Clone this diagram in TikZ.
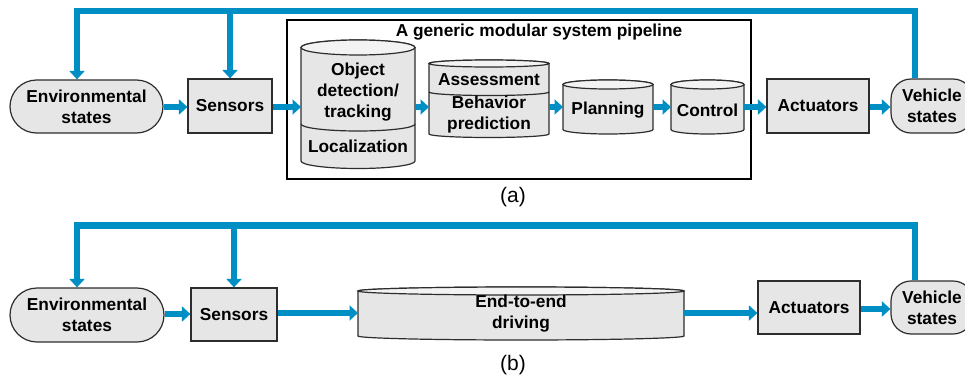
\documentclass[tikz,border=0pt]{standalone}
\usepackage{fontspec}
\setmainfont{Liberation Sans}
\usetikzlibrary{arrows.meta,calc}
\definecolor{flowblue}{RGB}{0,143,197}
\definecolor{boxgray}{RGB}{230,230,230}
\definecolor{topgray}{RGB}{243,243,243}
\definecolor{edgegray}{RGB}{45,45,45}
\newcommand\cylbody[2]{%
  \draw[cylline, fill=boxgray] let \p1=(#1.north west), \p2=(#1.south east), \n1={(\x2-\x1)/2} in
    (\p1) -- (\x1,\y2) arc[start angle=180, end angle=360, x radius=\n1, y radius=#2]
    -- (\x2,\y1) arc[start angle=0, end angle=180, x radius=\n1, y radius=#2] -- cycle;
  \draw[cylline, fill=topgray] let \p1=(#1.north west), \p2=(#1.south east), \n1={(\x2-\x1)/2} in
    ($(\p1)!0.5!(\x2,\y1)$) ellipse [x radius=\n1, y radius=#2];
}
\newcommand\cyldivider[3]{% node, y, ry
  \draw[cylline] let \p1=(#1.north west), \p2=(#1.south east), \n1={(\x2-\x1)/2} in
    (\x1,#2) arc[start angle=180, end angle=360, x radius=\n1, y radius=#3];
}
\begin{document}
\begin{tikzpicture}[x=1pt,y=1pt,
  lbl/.style={font=\bfseries\fontsize{17.3}{21}\selectfont, align=center, text=black},
  boxnode/.style={lbl, draw=edgegray, line width=1.2pt, fill=boxgray, inner sep=0pt},
  ghost/.style={inner sep=0pt, outer sep=0pt},
  cylline/.style={draw=edgegray, line width=1.2pt},
  flow/.style={draw=flowblue, line width=6.5pt, -{Triangle[length=8.5pt,width=15pt]}},
  flowplain/.style={draw=flowblue, line width=6.5pt, line join=miter},
  caption/.style={font=\fontsize{21}{25}\selectfont, text=black}
]
\useasboundingbox (0,0) rectangle (965,384);

% ---------------- (a) ----------------
\node[boxnode, rounded corners=26.5pt, minimum width=153pt, minimum height=53pt] (envA) at (86.5,277.5) {Environmental\\states};
\node[boxnode, minimum width=84pt, minimum height=54pt] (sensA) at (230,278) {Sensors};
\node[draw=black, line width=2.5pt, minimum width=464pt, minimum height=159pt, inner sep=0pt] (pipe) at (519,284.5) {};
\node[lbl] (pipet) at (539,352) {A generic modular system pipeline};

\node[ghost, minimum width=114pt, minimum height=113.5pt] (odet) at (358,279.75) {};
\cylbody{odet}{7.5pt}
\cyldivider{odet}{260}{7pt}
\node[lbl] (odett) at (358,292) {Object\\detection/\\tracking};
\node[lbl] (loct) at (358,238) {Localization};

\node[ghost, minimum width=120pt, minimum height=70.5pt] (beh) at (489,285.25) {};
\cylbody{beh}{3.5pt}
\cyldivider{beh}{292}{3.5pt}
\node[lbl] (asst) at (489,304) {Assessment};
\node[lbl] (beht) at (489,269) {Behavior\\prediction};

\node[ghost, minimum width=90pt, minimum height=45pt] (plan) at (608,277) {};
\cylbody{plan}{4.5pt}
\node[lbl] (plant) at (608,274) {Planning};

\node[ghost, minimum width=73pt, minimum height=45pt] (ctrl) at (707.5,277) {};
\cylbody{ctrl}{4.5pt}
\node[lbl] (ctrlt) at (707.5,274) {Control};

\node[boxnode, minimum width=102pt, minimum height=54pt] (actA) at (818,278) {Actuators};
\node[boxnode, rounded corners=20pt, minimum width=82pt, minimum height=54pt] (vehA) at (932,278) {Vehicle\\states};

\coordinate (taL) at (77,373);
\coordinate (taR) at (915,373);
\draw[flow] (envA.east |- 0,277) -- (sensA.west |- 0,277);
\draw[flow] (sensA.east |- 0,277) -- (odet.west |- 0,277);
\draw[flow] (odet.east |- 0,277) -- (beh.west |- 0,277);
\draw[flow] (beh.east |- 0,277) -- (plan.west |- 0,277);
\draw[flow] (plan.east |- 0,277) -- (ctrl.west |- 0,277);
\draw[flow] (ctrl.east |- 0,277) -- (actA.west |- 0,277);
\draw[flow] (actA.east |- 0,277) -- (vehA.west |- 0,277);
\draw[flowplain] (taR |- vehA.north) -- (taR) -- (taL) -- ([yshift=-4pt]taL);
\draw[flow] ([yshift=2pt]taL) -- (taL |- envA.north);
\draw[flow] (taL -| sensA.north) -- (sensA.north);
\node[caption] (capA) at (513,187) {(a)};

% ---------------- (b) ----------------
\node[boxnode, rounded corners=27pt, minimum width=154pt, minimum height=54pt] (envB) at (87,69) {Environmental\\states};
\node[boxnode, minimum width=86pt, minimum height=53pt] (sensB) at (234,69.5) {Sensors};
\node[ghost, minimum width=326pt, minimum height=45pt] (e2e) at (521,70.5) {};
\cylbody{e2e}{4pt}
\node[lbl] (e2et) at (521,70) {End-to-end\\driving};
\node[boxnode, minimum width=102pt, minimum height=53pt] (actB) at (809,76.5) {Actuators};
\node[boxnode, rounded corners=20pt, minimum width=82pt, minimum height=53pt] (vehB) at (932,76.5) {Vehicle\\states};

\coordinate (tbL) at (77,158.5);
\coordinate (tbR) at (915,158.5);
\draw[flow] (envB.east |- 0,70) -- (sensB.west |- 0,70);
\draw[flow] (sensB.east |- 0,71) -- (e2e.west |- 0,71);
\draw[flow] (e2e.east |- 0,71) -- (actB.west |- 0,71);
\draw[flow] (actB.east |- 0,75) -- (vehB.west |- 0,75);
\draw[flowplain] (tbR |- vehB.north) -- (tbR) -- (tbL) -- ([yshift=-4pt]tbL);
\draw[flow] ([yshift=2pt]tbL) -- (tbL |- envB.north);
\draw[flow] (tbL -| sensB.north) -- (sensB.north);
\node[caption] (capB) at (513,19) {(b)};
\end{tikzpicture}
\end{document}
